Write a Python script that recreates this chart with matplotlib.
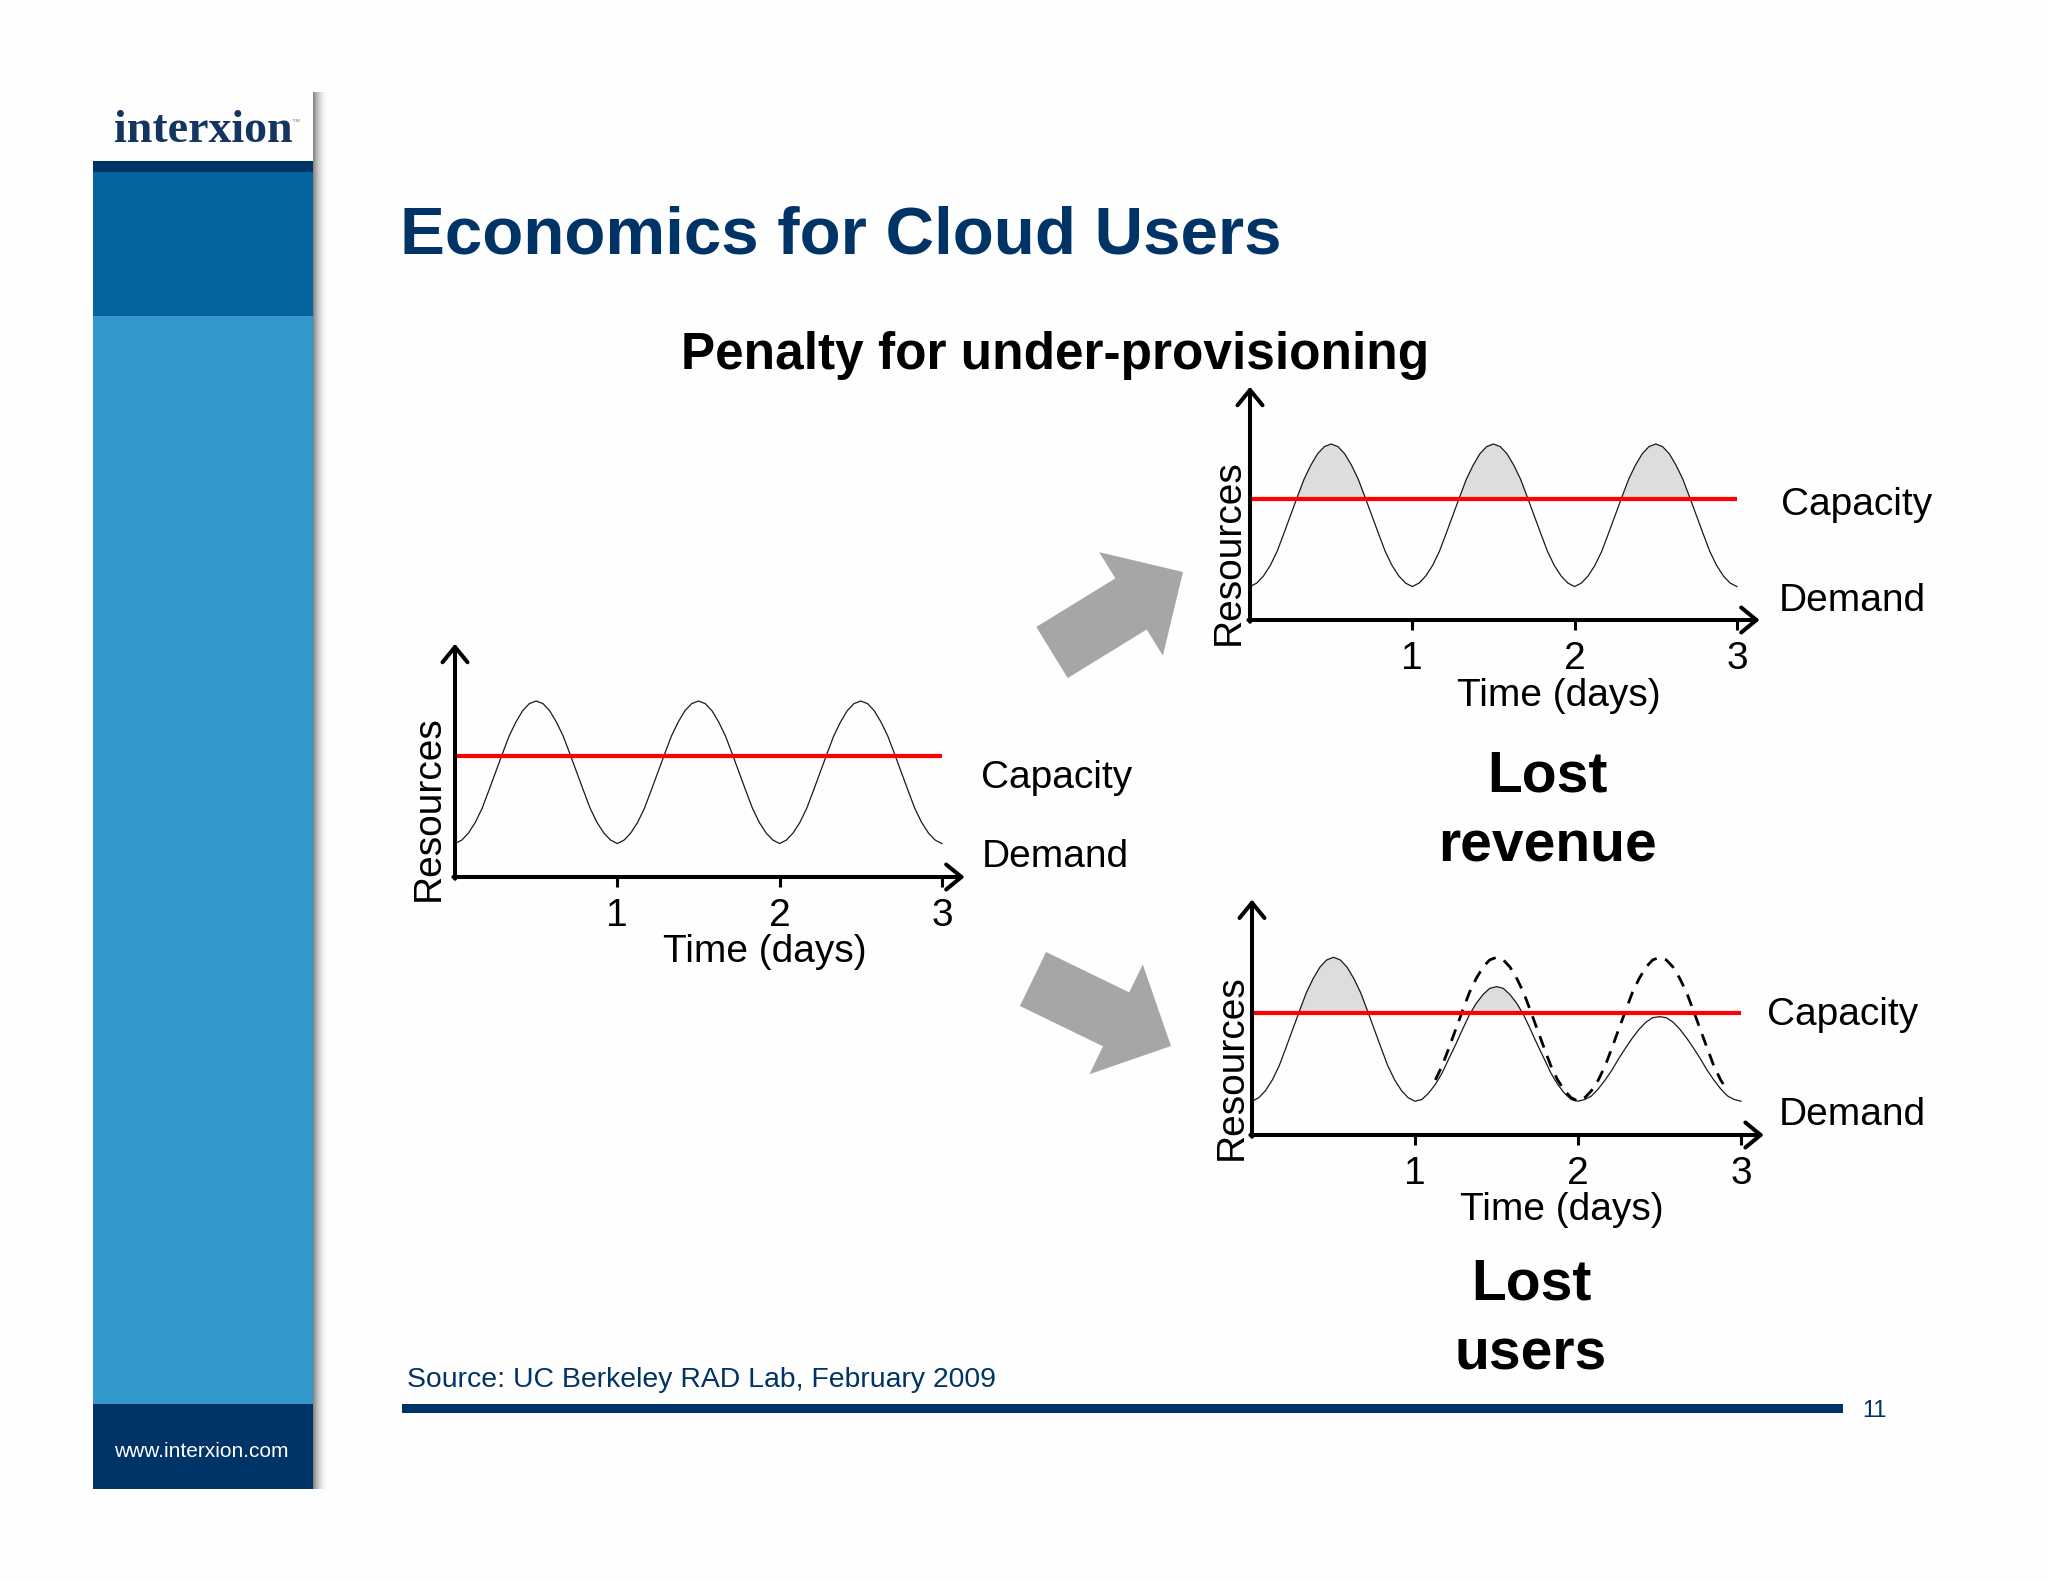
import matplotlib
matplotlib.use('Agg')
import matplotlib.pyplot as plt
import numpy as np
from matplotlib.patches import FancyArrow, Rectangle

W, H = 2048, 1582

# Chart data
days = [0, 0.042, 0.083, 0.125, 0.167, 0.208, 0.25, 0.292, 0.333, 0.375, 0.417, 0.458,
        0.5, 0.542, 0.583, 0.625, 0.667, 0.708, 0.75, 0.792, 0.833, 0.875, 0.917, 0.958,
        1, 1.042, 1.083, 1.125, 1.167, 1.208, 1.25, 1.292, 1.333, 1.375, 1.417, 1.458,
        1.5, 1.542, 1.583, 1.625, 1.667, 1.708, 1.75, 1.792, 1.833, 1.875, 1.917, 1.958,
        2, 2.042, 2.083, 2.125, 2.167, 2.208, 2.25, 2.292, 2.333, 2.375, 2.417, 2.458,
        2.5, 2.542, 2.583, 2.625, 2.667, 2.708, 2.75, 2.792, 2.833, 2.875, 2.917, 2.958, 3]
demand = [19, 21, 25, 31, 39, 49, 59.5, 70, 80, 88, 94.5, 98.5,
          100, 98.5, 94.5, 88, 80, 70, 59.5, 49, 39, 31, 25, 21,
          19, 21, 25, 31, 39, 49, 59.5, 70, 80, 88, 94.5, 98.5,
          100, 98.5, 94.5, 88, 80, 70, 59.5, 49, 39, 31, 25, 21,
          19, 21, 25, 31, 39, 49, 59.5, 70, 80, 88, 94.5, 98.5,
          100, 98.5, 94.5, 88, 80, 70, 59.5, 49, 39, 31, 25, 21, 19]
demand_lost_users = [19, 21, 25, 31, 39, 49, 59.5, 70, 80, 88, 94.5, 98.5,
                     100, 98.5, 94.5, 88, 80, 70, 59.5, 49, 39, 31, 25, 21,
                     19, 20, 23.5, 28.5, 35, 43, 51, 59.5, 67.5, 74, 79, 82.5,
                     83.5, 82.5, 79, 74, 67.5, 59.5, 51, 43, 35, 28.5, 23.5, 20,
                     19, 20, 22, 26, 31, 36.5, 43, 49, 54.5, 59.5, 63.5, 66,
                     66.6, 66, 63.5, 59.5, 54.5, 49, 43, 36.5, 31, 26, 22, 20, 19]
capacity = 68.7
tick_days = [1, 2, 3]
tick_labels = ['1', '2', '3']

NAVY = '#003366'
MID_BLUE = '#03659c'
LIGHT_BLUE = '#3399cc'
ARROW_GREY = '#a7a5a8'
FILL_GREY = '#dddcdf'

plt.rcParams['font.family'] = ['Liberation Sans', 'DejaVu Sans']

fig = plt.figure(figsize=(W / 100, H / 100), dpi=100, facecolor='#fefefe')

# Page layer, works in pixels of the slide
page = fig.add_axes([0, 0, 1, 1])
page.set_xlim(0, W)
page.set_ylim(H, 0)
page.axis('off')

# Sidebar
page.add_patch(Rectangle((93, 161), 220, 11, color=NAVY, lw=0))
page.add_patch(Rectangle((93, 172), 220, 144, color=MID_BLUE, lw=0))
page.add_patch(Rectangle((93, 316), 220, 1088, color=LIGHT_BLUE, lw=0))
page.add_patch(Rectangle((93, 1404), 220, 85, color=NAVY, lw=0))

# Sidebar drop shadow
shadow = np.zeros((1, 64, 4))
shadow[0, :, 3] = 0.5 * np.linspace(1, 0, 64) ** 2.2
page.imshow(shadow, extent=(313, 330, 1489, 92), aspect='auto', zorder=1)
page.set_xlim(0, W)
page.set_ylim(H, 0)

page.text(114, 142, 'interxion', family='Liberation Serif', weight='bold', fontsize=33, color='#12365f')
page.text(291, 124, '™', fontsize=6, color='#888888')
page.text(114, 1457, 'www.interxion.com', fontsize=15, color='white')

# Footer rule
page.add_patch(Rectangle((402, 1404), 1441, 9, color=NAVY, lw=0))
page.text(407, 1387, 'Source: UC Berkeley RAD Lab, February 2009', fontsize=20.4, color=NAVY)
page.text(1862, 1417, '11', fontsize=17, color=NAVY)

page.text(400, 254, 'Economics for Cloud Users', fontsize=48.4, weight='bold', color=NAVY)
page.text(681, 369, 'Penalty for under-provisioning', fontsize=37, weight='bold', color='black')

# Big grey arrows
page.add_patch(FancyArrow(1052, 652.5, 131, -80.5, width=60, head_width=121.5, head_length=61,
                          length_includes_head=True, color=ARROW_GREY, lw=0))
page.add_patch(FancyArrow(1033, 979, 138, 67, width=60, head_width=122, head_length=61,
                          length_includes_head=True, color=ARROW_GREY, lw=0))


def draw_chart(x0, y0, day_px, res_px, values, xlabel_at, ylabel_at):
    ax = fig.add_axes([x0 / W, 1 - y0 / H, 3.2 * day_px / W, 135 * res_px / H])
    ax.patch.set_alpha(0)
    ax.set_xlim(0, 3.2)
    ax.set_ylim(0, 135)
    for side in ax.spines:
        ax.spines[side].set_visible(False)

    ax.plot(days, values, color='#1a1a1a', lw=0.9, zorder=3)
    ax.axhline(capacity, xmin=0, xmax=3.0 / 3.2, color='#ff0000', lw=3, zorder=4, solid_capstyle='butt')

    ax.set_xticks(tick_days)
    ax.set_xticklabels(tick_labels)
    ax.set_yticks([])
    ax.tick_params(axis='x', length=7.5, width=2.2, pad=7.5, labelsize=28)

    ax.set_xlabel('Time (days)', fontsize=28, va='baseline', ha='center')
    ax.xaxis.set_label_coords(xlabel_at[0], xlabel_at[1], transform=page.transData)
    ax.set_ylabel('Resources', fontsize=28, va='center', ha='center')
    ax.yaxis.set_label_coords(ylabel_at[0], ylabel_at[1], transform=page.transData)

    arrow = dict(arrowstyle='->,head_length=1.1,head_width=0.9', color='black', lw=2.9,
                 shrinkA=0, shrinkB=0, mutation_scale=10)
    ax.annotate('', xy=(3.14, 0), xytext=(-0.01, 0), arrowprops=arrow, zorder=5)
    ax.annotate('', xy=(0, 132.5), xytext=(0, -1), arrowprops=arrow, zorder=5)
    return ax


# Left chart
left = draw_chart(455, 877, 162.3, 1.76, demand, (765, 962), (429, 808))
page.text(981, 788, 'Capacity', fontsize=28)
page.text(982, 867, 'Demand', fontsize=28)

# Top right chart, lost revenue
top = draw_chart(1250, 620, 162.3, 1.76, demand, (1559, 706), (1229, 552))
top.fill_between(days, capacity, demand, where=np.array(demand) > capacity, interpolate=True,
                 color=FILL_GREY, lw=0, zorder=1)
page.text(1781, 515, 'Capacity', fontsize=28)
page.text(1779, 611, 'Demand', fontsize=28)
page.text(1547, 791, 'Lost', fontsize=41, weight='bold', ha='center')
page.text(1547, 861, 'revenue', fontsize=41, weight='bold', ha='center')

# Bottom right chart, lost users
bottom = draw_chart(1252, 1135, 163, 1.777, demand_lost_users, (1562, 1220), (1232, 1067))
bottom.fill_between(days, capacity, demand_lost_users, where=np.array(demand_lost_users) > capacity,
                    interpolate=True, color=FILL_GREY, lw=0, zorder=1)
bottom.plot(days[27:71], demand[27:71], color='black', lw=2.0, dashes=(4.4, 3.2), zorder=3)
page.text(1767, 1025, 'Capacity', fontsize=28)
page.text(1779, 1125, 'Demand', fontsize=28)
page.text(1531, 1299, 'Lost', fontsize=41, weight='bold', ha='center')
page.text(1531, 1369, 'users', fontsize=41, weight='bold', ha='center')

fig.savefig('out.png', dpi=100, facecolor=fig.get_facecolor())
